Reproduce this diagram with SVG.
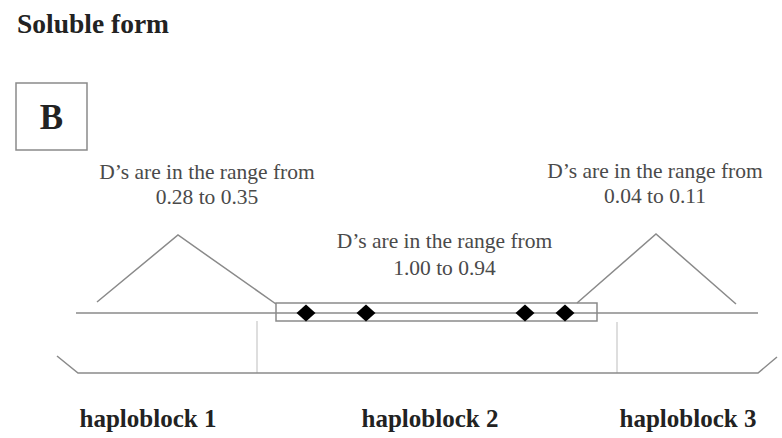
<svg xmlns="http://www.w3.org/2000/svg" width="782" height="438" viewBox="0 0 782 438">
<style>
.ln{stroke:#8a8a8a;stroke-width:1.5;fill:none}
.lt{stroke:#c8c8c8;stroke-width:1.2;fill:none}
.lbl{font-size:21.5px;fill:#4a4a4a;text-anchor:middle}
.bold{font-weight:bold;fill:#222}
.dm{fill:#000}
</style>
<rect width="782" height="438" fill="#fff"/>
<g font-family="'Liberation Serif', 'Times New Roman', serif">
<text class="bold" x="17" y="33" font-size="27.5">Soluble form</text>
<g id="panelB">
<rect x="16" y="83" width="71" height="67" fill="#fff" stroke="#8a8a8a" stroke-width="1.5"/>
<text class="bold" x="51.5" y="129" font-size="35" text-anchor="middle">B</text>
</g>
<g id="connectors">
<polyline class="ln" points="97,302 178,235 276,304"/>
<polyline class="ln" points="577,303 656,234 736,304"/>
<line class="ln" x1="76" y1="313" x2="758" y2="313"/>
<line class="lt" x1="257" y1="321" x2="257" y2="373"/>
<line class="lt" x1="617" y1="322" x2="617" y2="373"/>
<polyline class="ln" points="57,356 78,373 758,373 777,357"/>
</g>
<g id="block2">
<rect x="276" y="303" width="321" height="18" fill="none" stroke="#8a8a8a" stroke-width="1.5"/>
<path class="dm" d="M306,304.5 L315.5,313 L306,321.5 L296.5,313 Z"/>
<path class="dm" d="M366,304.5 L375.5,313 L366,321.5 L356.5,313 Z"/>
<path class="dm" d="M525,304.5 L534.5,313 L525,321.5 L515.5,313 Z"/>
<path class="dm" d="M565,304.5 L574.5,313 L565,321.5 L555.5,313 Z"/>
</g>
<g id="label1">
<text class="lbl" x="207" y="179">D’s are in the range from</text>
<text class="lbl" x="207" y="204">0.28 to 0.35</text>
</g>
<g id="label2">
<text class="lbl" x="444.5" y="248">D’s are in the range from</text>
<text class="lbl" x="444.5" y="275">1.00 to 0.94</text>
</g>
<g id="label3">
<text class="lbl" x="655" y="178">D’s are in the range from</text>
<text class="lbl" x="655" y="203">0.04 to 0.11</text>
</g>
<g id="haploblock1"><text class="bold" x="148" y="427" font-size="25" text-anchor="middle">haploblock 1</text></g>
<g id="haploblock2"><text class="bold" x="430" y="427" font-size="25" text-anchor="middle">haploblock 2</text></g>
<g id="haploblock3"><text class="bold" x="688" y="427" font-size="25" text-anchor="middle">haploblock 3</text></g>
</g>
</svg>
